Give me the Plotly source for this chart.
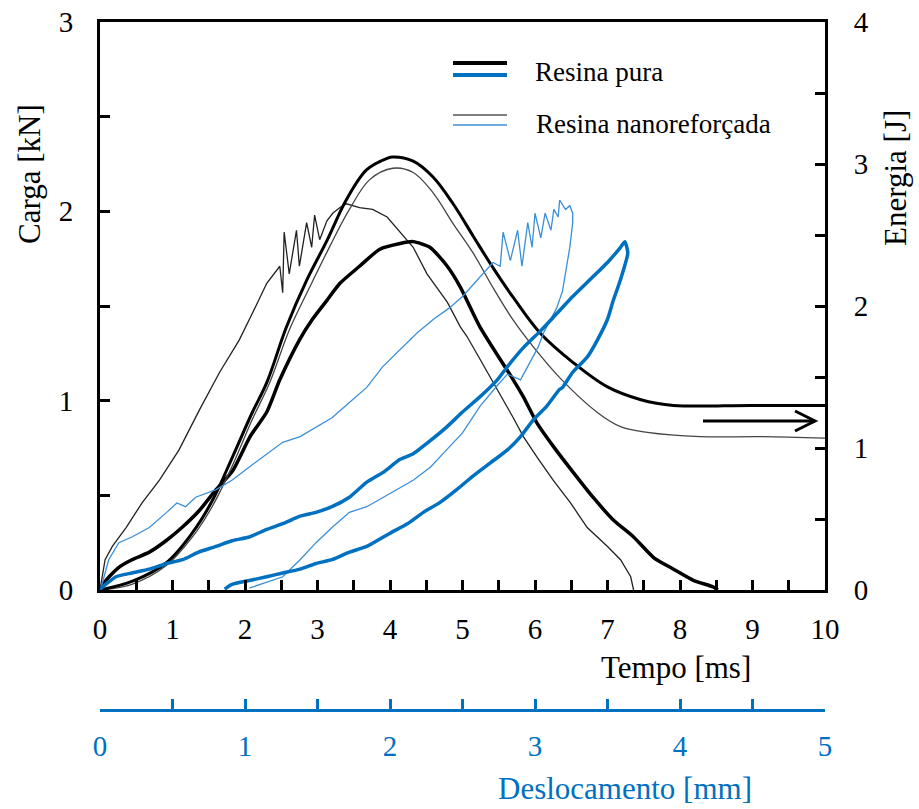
import plotly.graph_objects as go

# ---------------- data ----------------
# Load vs time, pure resin (thick black)  t [ms], F [kN]
t_load_pura = [0, 0.08, 0.26, 0.44, 0.68, 0.91, 1.13, 1.37, 1.60, 1.83, 2.07, 2.30, 2.48,
               2.75, 2.93, 3.13, 3.31, 3.58, 3.86, 4.14, 4.32, 4.55, 4.79, 4.97, 5.24,
               5.70, 5.84, 6.03, 6.25, 6.53, 6.80, 7.08, 7.36, 7.64, 7.91, 8.19, 8.46, 8.52]
f_load_pura = [0, 0.05, 0.12, 0.16, 0.20, 0.26, 0.33, 0.42, 0.53, 0.63, 0.81, 0.94, 1.11,
               1.32, 1.43, 1.53, 1.62, 1.71, 1.80, 1.83, 1.84, 1.81, 1.71, 1.60, 1.39,
               1.11, 1.02, 0.88, 0.76, 0.62, 0.49, 0.37, 0.28, 0.17, 0.11, 0.05, 0.016, 0.0]

# Load vs time, nano-reinforced resin (thin black)
t_load_nano = [0, 0.03, 0.07, 0.17, 0.36, 0.58, 0.82, 1.09, 1.37, 1.65, 1.92, 2.10, 2.30,
               2.48, 2.52, 2.54, 2.61, 2.71, 2.75, 2.85, 2.92, 2.96, 3.03, 3.13, 3.21,
               3.31, 3.40, 3.58, 3.76, 3.96, 4.14, 4.32, 4.51, 4.79, 4.97, 5.06, 5.24,
               5.48, 5.70, 5.84, 6.03, 6.25, 6.49, 6.72, 7.00, 7.18, 7.32, 7.36]
f_load_nano = [0, 0.08, 0.16, 0.23, 0.33, 0.46, 0.58, 0.74, 0.95, 1.15, 1.32, 1.46, 1.62,
               1.71, 1.57, 1.89, 1.67, 1.90, 1.71, 1.94, 1.81, 1.98, 1.85, 1.95, 1.99,
               2.02, 2.04, 2.02, 2.01, 1.97, 1.89, 1.81, 1.67, 1.52, 1.39, 1.34, 1.22,
               1.06, 0.91, 0.81, 0.70, 0.58, 0.46, 0.33, 0.23, 0.16, 0.07, 0.0]

# Energy vs time, pure resin (thick black smooth)  t [ms], E [J]
t_en_pura = [0, 0.44, 0.91, 1.27, 1.55, 1.83, 2.10, 2.30, 2.57, 2.85, 3.13, 3.40, 3.68,
             3.96, 4.04, 4.32, 4.59, 4.87, 5.15, 5.42, 5.70, 6.07, 6.53, 7.00, 7.46,
             7.91, 8.98, 10.0]
e_en_pura = [0, 0.06, 0.19, 0.40, 0.63, 0.94, 1.25, 1.46, 1.85, 2.18, 2.46, 2.75, 2.96,
             3.04, 3.05, 3.02, 2.91, 2.72, 2.49, 2.27, 2.06, 1.81, 1.60, 1.43, 1.34,
             1.30, 1.30, 1.30]

# Energy vs time, nano-reinforced resin (thin black smooth)
t_en_nano = [0, 0.44, 0.91, 1.27, 1.55, 1.83, 2.10, 2.34, 2.61, 2.89, 3.17, 3.44, 3.72,
             4.04, 4.32, 4.59, 4.87, 5.15, 5.42, 5.70, 5.98, 6.35, 6.86, 7.18, 7.55,
             8.28, 9.11, 10.0]
e_en_nano = [0, 0.04, 0.17, 0.37, 0.59, 0.88, 1.20, 1.46, 1.83, 2.13, 2.42, 2.68, 2.89,
             2.97, 2.94, 2.80, 2.58, 2.37, 2.13, 1.90, 1.71, 1.49, 1.25, 1.15, 1.11,
             1.08, 1.08, 1.07]

# Load vs displacement, pure resin (thick blue)  d [mm], F [kN]
d_pura = [0, 0.01, 0.11, 0.22, 0.34, 0.46, 0.57, 0.68, 0.80, 0.91, 1.03, 1.15, 1.26, 1.38,
          1.49, 1.60, 1.72, 1.84, 1.95, 2.07, 2.16, 2.28, 2.39, 2.50, 2.62, 2.74, 2.81,
          2.92, 3.04, 3.15, 3.26, 3.38, 3.50, 3.59, 3.62,
          3.64, 3.59, 3.54, 3.50, 3.43, 3.36, 3.26, 3.19, 3.17, 3.08, 2.99, 2.90, 2.81,
          2.69, 2.57, 2.46, 2.34, 2.23, 2.12, 2.00, 1.84, 1.72, 1.60, 1.49, 1.38, 1.26,
          1.15, 1.03, 0.91, 0.86]
fd_pura = [0, 0.01, 0.07, 0.09, 0.11, 0.14, 0.16, 0.20, 0.23, 0.26, 0.28, 0.32, 0.35, 0.39,
           0.41, 0.44, 0.49, 0.57, 0.62, 0.69, 0.72, 0.79, 0.86, 0.94, 1.02, 1.11, 1.18,
           1.28, 1.37, 1.46, 1.55, 1.64, 1.73, 1.81, 1.84,
           1.78, 1.64, 1.53, 1.43, 1.32, 1.23, 1.15, 1.07, 1.06, 0.97, 0.90, 0.81, 0.74,
           0.67, 0.60, 0.53, 0.46, 0.41, 0.35, 0.30, 0.23, 0.20, 0.16, 0.14, 0.11, 0.09,
           0.07, 0.05, 0.03, 0.005]

# Load vs displacement, nano-reinforced resin (thin blue)
d_nano = [0, 0.01, 0.06, 0.13, 0.22, 0.34, 0.46, 0.53, 0.59, 0.66, 0.80, 0.91, 1.03, 1.15,
          1.26, 1.38, 1.49, 1.60, 1.72, 1.84, 1.95, 2.07, 2.19, 2.30, 2.41, 2.50, 2.62,
          2.71, 2.76, 2.78, 2.83, 2.88, 2.91, 2.95, 2.98, 3.00, 3.04, 3.07, 3.11, 3.13,
          3.16, 3.17, 3.21, 3.24, 3.26,
          3.26, 3.24, 3.22, 3.19, 3.15, 3.11, 3.06, 3.02, 2.95, 2.90, 2.81, 2.74, 2.62,
          2.50, 2.39, 2.28, 2.16, 2.07, 1.95, 1.84, 1.72, 1.60, 1.49, 1.38, 1.26, 1.15, 1.03]
fd_nano = [0, 0.02, 0.16, 0.25, 0.28, 0.33, 0.41, 0.46, 0.44, 0.49, 0.53, 0.58, 0.65, 0.72,
           0.78, 0.81, 0.86, 0.91, 0.99, 1.07, 1.18, 1.27, 1.36, 1.43, 1.49, 1.55, 1.65,
           1.73, 1.71, 1.89, 1.74, 1.90, 1.71, 1.94, 1.81, 1.99, 1.86, 1.99, 1.90, 2.01,
           1.97, 2.06, 2.01, 2.03, 1.99,
           1.94, 1.81, 1.71, 1.58, 1.49, 1.43, 1.36, 1.28, 1.18, 1.11, 1.14, 1.08, 0.97,
           0.83, 0.74, 0.65, 0.58, 0.54, 0.49, 0.44, 0.41, 0.33, 0.25, 0.16, 0.07, 0.04, 0.01]

x_ticks_tempo = list(range(0, 11))
y_ticks_carga = [0, 1, 2, 3]
y_ticks_energia = [0, 1, 2, 3, 4]
x_ticks_desl = [0, 1, 2, 3, 4, 5]

legend_labels = ["Resina pura", "Resina nanoreforçada"]

# ---------------- styling ----------------
BLUE = "#0070C0"
BLUE_L = "#3A8FD8"
FONT = "Liberation Serif"
W, H = 919, 809
ML, MR, MT, MB = 100, 94, 22, 99
PW, PH = W - ML - MR, H - MT - MB


def px_x(px):
    return (px - ML) / PW


def px_y(py):
    return (H - MB - py) / PH


ydom0 = px_y(590)

fig = go.Figure()

fig.add_trace(go.Scatter(x=t_en_nano, y=e_en_nano, xaxis="x", yaxis="y2", mode="lines",
                         line=dict(color="#444444", width=1.3, shape="spline", smoothing=1.0),
                         showlegend=False))
fig.add_trace(go.Scatter(x=t_en_pura, y=e_en_pura, xaxis="x", yaxis="y2", mode="lines",
                         line=dict(color="black", width=3, shape="spline", smoothing=1.0),
                         showlegend=False))
fig.add_trace(go.Scatter(x=t_load_nano, y=f_load_nano, xaxis="x", yaxis="y", mode="lines",
                         line=dict(color="#222222", width=1.3), showlegend=False))
fig.add_trace(go.Scatter(x=t_load_pura, y=f_load_pura, xaxis="x", yaxis="y", mode="lines",
                         line=dict(color="black", width=3.5, shape="spline", smoothing=0.6),
                         showlegend=False))
fig.add_trace(go.Scatter(x=d_nano, y=fd_nano, xaxis="x2", yaxis="y", mode="lines",
                         line=dict(color=BLUE_L, width=1.3), showlegend=False))
fig.add_trace(go.Scatter(x=d_pura, y=fd_pura, xaxis="x2", yaxis="y", mode="lines",
                         line=dict(color=BLUE, width=3.5, shape="spline", smoothing=0.5),
                         showlegend=False))

tickfont = dict(family=FONT, size=29, color="black")
common = dict(showgrid=False, zeroline=False, showline=True, linewidth=3, ticks="inside",
              ticklen=10, tickwidth=3, automargin=False)

fig.update_layout(
    width=W, height=H,
    margin=dict(l=ML, r=MR, t=MT, b=MB, pad=0, autoexpand=False),
    plot_bgcolor="white", paper_bgcolor="white",
    font=dict(family=FONT),
    xaxis=dict(domain=[0, 1], range=[0, 10], anchor="y", mirror=True, linecolor="black",
               tickcolor="black", tickvals=x_ticks_tempo, tickfont=tickfont,
               ticklabelstandoff=11,
               minor=dict(dtick=0.5, ticks="inside", ticklen=10, tickwidth=3, tickcolor="black"),
               **common),
    yaxis=dict(domain=[ydom0, 1], range=[0, 3], anchor="x", linecolor="black",
               tickcolor="black", tickvals=y_ticks_carga, tickfont=tickfont,
               ticklabelstandoff=18,
               minor=dict(dtick=0.5, ticks="inside", ticklen=10, tickwidth=3, tickcolor="black"),
               **common),
    yaxis2=dict(range=[0, 4], overlaying="y", side="right", anchor="x", linecolor="black",
                tickcolor="black", tickvals=y_ticks_energia, tickfont=tickfont,
                ticklabelstandoff=20,
                minor=dict(dtick=0.5, ticks="inside", ticklen=10, tickwidth=3, tickcolor="black"),
                **common),
    xaxis2=dict(range=[0, 5], overlaying="x", anchor="free", position=0, side="bottom",
                linecolor=BLUE, tickcolor=BLUE, tickvals=x_ticks_desl,
                tickfont=dict(family=FONT, size=29, color=BLUE),
                ticklabelstandoff=9,
                minor=dict(dtick=0.5, ticks="inside", ticklen=10, tickwidth=3, tickcolor=BLUE),
                **common),
)

# axis titles and legend texts
ann = [
    dict(text="Carga [kN]", x=px_x(30), y=px_y(174), textangle=-90,
         font=dict(family=FONT, size=31, color="black")),
    dict(text="Energia [J]", x=px_x(896), y=px_y(178), textangle=-90,
         font=dict(family=FONT, size=31, color="black")),
    dict(text="Tempo [ms]", x=px_x(676), y=px_y(667),
         font=dict(family=FONT, size=31, color="black")),
    dict(text="Deslocamento [mm]", x=px_x(625), y=px_y(788),
         font=dict(family=FONT, size=31, color=BLUE)),
    dict(text=legend_labels[0], x=px_x(533), y=px_y(72), xanchor="left",
         font=dict(family=FONT, size=27, color="black")),
    dict(text=legend_labels[1], x=px_x(534), y=px_y(124), xanchor="left",
         font=dict(family=FONT, size=27, color="black")),
]
for a in ann:
    a.setdefault("xanchor", "center")
    fig.add_annotation(xref="paper", yref="paper", yanchor="middle", showarrow=False, **a)


# legend samples
def seg(x0, x1, y, color, width):
    fig.add_shape(type="line", xref="paper", yref="paper",
                  x0=px_x(x0), x1=px_x(x1), y0=px_y(y), y1=px_y(y),
                  line=dict(color=color, width=width))


seg(453, 507, 63, "black", 4)
seg(453, 507, 75, BLUE, 4)
seg(453, 507, 115, "#555555", 1.3)
seg(453, 507, 125, BLUE_L, 1.5)

# arrow pointing to the right (energy) axis
fig.add_shape(type="line", xref="paper", yref="paper",
              x0=px_x(703), x1=px_x(815), y0=px_y(421), y1=px_y(421),
              line=dict(color="black", width=3))
fig.add_shape(type="path", xref="paper", yref="paper",
              path=f"M {px_x(795)} {px_y(411)} L {px_x(815)} {px_y(421)} L {px_x(795)} {px_y(431)}",
              line=dict(color="black", width=3))

fig.write_html("out.html", config={"displayModeBar": False},
               post_script="document.body.style.margin='0px';document.body.style.overflow='hidden';")
